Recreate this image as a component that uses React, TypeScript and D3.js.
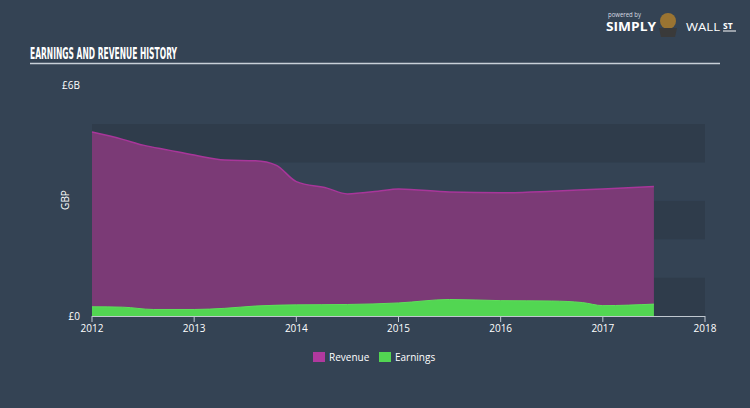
import React from "react";
import * as d3 from "d3";

const revenueYears = [2012.0, 2012.3, 2012.5, 2012.75, 2013.0, 2013.3, 2013.6, 2013.8, 2014.0, 2014.3, 2014.5, 2014.8, 2015.0, 2015.5, 2016.0, 2016.5, 2017.0, 2017.5];
const revenueValues = [4.79, 4.6, 4.45, 4.32, 4.19, 4.06, 4.04, 3.93, 3.5, 3.33, 3.18, 3.25, 3.31, 3.23, 3.21, 3.25, 3.31, 3.37];
const earningsYears = [2012.0, 2012.3, 2012.6, 2013.0, 2013.3, 2013.6, 2014.0, 2014.5, 2015.0, 2015.5, 2016.0, 2016.5, 2016.8, 2017.0, 2017.5];
const earningsValues = [0.24, 0.23, 0.17, 0.17, 0.2, 0.26, 0.29, 0.3, 0.34, 0.43, 0.4, 0.39, 0.35, 0.27, 0.31];
const xTicks = [2012, 2013, 2014, 2015, 2016, 2017, 2018];
const bands = [0, 1, 2, 3, 4];

const W = 750, H = 408;

export default function App() {
  const x = d3.scaleLinear().domain([2012, 2018]).range([92, 705]);
  const y = d3.scaleLinear().domain([0, 6]).range([316, 85.6]);
  const area = d3.area<[number, number]>().x(d => x(d[0])).y0(y(0)).y1(d => y(d[1])).curve(d3.curveMonotoneX);
  const line = d3.line<[number, number]>().x(d => x(d[0])).y(d => y(d[1])).curve(d3.curveMonotoneX);
  const rev: [number, number][] = revenueYears.map((t, i) => [t, revenueValues[i]]);
  const earn: [number, number][] = earningsYears.map((t, i) => [t, earningsValues[i]]);
  const font = "'Open Sans', 'DejaVu Sans', sans-serif";
  return (
    <svg width={W} height={H} style={{ position: "absolute", left: 0, top: 0, display: "block" }}>
      <rect x={0} y={0} width={W} height={H} fill="#344354" />
      {/* title */}
      <text x={30} y={58.5} fill="#ffffff" fontFamily="'DejaVu Sans Condensed', 'Liberation Sans Narrow', sans-serif" fontWeight="bold" fontSize={15.5}
        textLength={147} lengthAdjust="spacingAndGlyphs">EARNINGS AND REVENUE HISTORY</text>
      <line x1={30} x2={720} y1={63.5} y2={63.5} stroke="#c8d0d8" strokeWidth={1.5} />
      {/* logo */}
      <text x={608} y={17} fill="#d8dde2" fontFamily={font} fontSize={7.5} textLength={33} lengthAdjust="spacingAndGlyphs">powered by</text>
      <text x={606} y={31} fill="#ffffff" fontFamily={font} fontWeight="bold" fontSize={11.5} textLength={50} lengthAdjust="spacingAndGlyphs">SIMPLY</text>
      <circle cx={668} cy={21} r={8} fill="#9a7432" />
      <path d="M659,28 L677,28 L675,37 L661,37 Z" fill="#3a3a3a" />
      <text x={686} y={31} fill="#ffffff" fontFamily={font} fontSize={11.5} textLength={34} lengthAdjust="spacingAndGlyphs">WALL</text>
      <text x={723} y={29} fill="#ffffff" fontFamily={font} fontWeight="bold" fontSize={8.5}>ST</text>
      <line x1={723} x2={736} y1={31} y2={31} stroke="#ffffff" strokeWidth={1} />
      {/* bands */}
      {bands.map(b => (
        <rect key={b} x={x(2012)} width={x(2018) - x(2012)} y={y(b + 1)} height={y(b) - y(b + 1)}
          fill={b % 2 === 0 ? "#2f3c4b" : "#344354"} />
      ))}
      {/* areas */}
      <path d={area(rev) || ""} fill="#7b3a76" />
      <path d={line(rev) || ""} fill="none" stroke="#a8369a" strokeWidth={1.5} />
      <path d={area(earn) || ""} fill="#52d652" />
      <path d={line(earn) || ""} fill="none" stroke="#5ee05a" strokeWidth={1} />
      {/* axis */}
      <line x1={x(2012)} x2={x(2018)} y1={316.5} y2={316.5} stroke="#c0c8d0" strokeWidth={1} />
      {xTicks.map(t => (
        <g key={t}>
          <line x1={x(t)} x2={x(t)} y1={316} y2={322} stroke="#c0c8d0" strokeWidth={1} />
          <text x={x(t)} y={332} textAnchor="middle" fill="#ffffff" fontFamily={font} fontSize={10}>{t}</text>
        </g>
      ))}
      <text x={80} y={89} textAnchor="end" fill="#ffffff" fontFamily={font} fontSize={10}>£6B</text>
      <text x={80} y={320} textAnchor="end" fill="#ffffff" fontFamily={font} fontSize={10}>£0</text>
      <text transform="translate(69,200) rotate(-90)" textAnchor="middle" fill="#ffffff" fontFamily={font} fontSize={10}>GBP</text>
      {/* legend */}
      <rect x={313} y={352} width={12} height={10} fill="#b0399e" />
      <text x={329} y={361} fill="#ffffff" fontFamily={font} fontSize={10}>Revenue</text>
      <rect x={379} y={352} width={12} height={10} fill="#52d652" />
      <text x={395} y={361} fill="#ffffff" fontFamily={font} fontSize={10}>Earnings</text>
    </svg>
  );
}
